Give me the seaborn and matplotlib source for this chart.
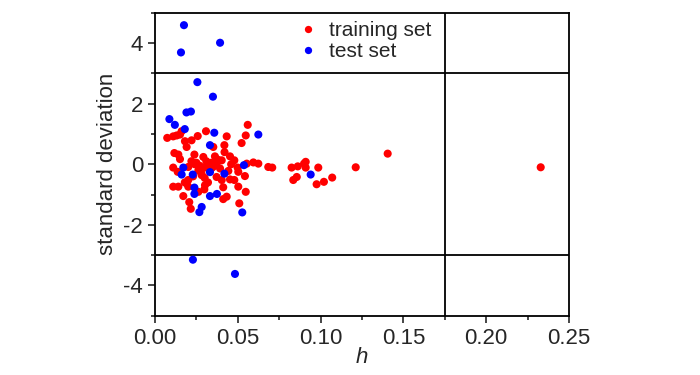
import pandas as pd
import seaborn as sns
import matplotlib.pyplot as plt
from matplotlib.ticker import MultipleLocator

# leverage (h) vs standardized residual
train_h = [0.0560, 0.0308, 0.0131, 0.0151, 0.0161, 0.0074, 0.0110, 0.0258, 0.0433, 0.0548,
           0.0181, 0.0221, 0.0523, 0.0419, 0.0191, 0.0352, 0.0117, 0.0141, 0.0151, 0.0238,
           0.0292, 0.0362, 0.0403, 0.0453, 0.0479, 0.0554, 0.0594, 0.0624, 0.0684, 0.0708,
           0.0825, 0.0862, 0.0900, 0.0835, 0.0856, 0.0110, 0.0137, 0.0201, 0.0262, 0.0298,
           0.0322, 0.0346, 0.0372, 0.0393, 0.0443, 0.0499, 0.0503, 0.0543, 0.0282, 0.0372,
           0.0403, 0.0453, 0.0479, 0.0201, 0.0191, 0.0110, 0.0141, 0.0201, 0.0302, 0.0298,
           0.0262, 0.0412, 0.0503, 0.0548, 0.0171, 0.0412, 0.0433, 0.0207, 0.0216, 0.0509,
           0.1405, 0.1212, 0.0910, 0.0910, 0.0986, 0.0976, 0.1020, 0.1070, 0.2329,
           0.0250, 0.0270, 0.0310, 0.0330, 0.0280, 0.0240, 0.0360, 0.0380, 0.0300, 0.0340,
           0.0220, 0.0180, 0.0420, 0.0460, 0.0230, 0.0320]
train_sd = [1.30, 1.09, 0.95, 0.98, 1.09, 0.87, 0.92, 0.93, 0.92, 0.95,
            0.76, 0.79, 0.70, 0.63, 0.57, 0.57, 0.37, 0.32, 0.17, 0.32,
            0.24, 0.26, 0.13, 0.26, 0.13, 0.02, 0.06, 0.02, -0.09, -0.11,
            -0.11, -0.07, 0.02, -0.52, -0.42, -0.11, -0.25, -0.09, -0.20, -0.11,
            0.00, -0.11, 0.02, -0.14, -0.22, -0.11, -0.25, -0.39, -0.36, -0.42,
            -0.52, -0.50, -0.52, -0.52, -0.63, -0.74, -0.74, -0.74, -0.69, -0.83,
            -0.91, -0.76, -0.74, -0.91, -1.05, -1.15, -1.07, -1.25, -1.47, -1.29,
            0.35, -0.10, 0.08, -0.11, -0.11, -0.66, -0.58, -0.44, -0.10,
            0.05, -0.05, 0.10, -0.20, -0.30, 0.00, -0.05, 0.15, -0.45, 0.05,
            0.10, -0.60, 0.40, 0.00, -0.40, -0.60]

test_h = [0.0175, 0.0157, 0.0393, 0.0256, 0.0350, 0.0190, 0.0217, 0.0087, 0.0120, 0.0180,
          0.0358, 0.0624, 0.0332, 0.0537, 0.0171, 0.0161, 0.0228, 0.0332, 0.0419, 0.0940,
          0.0238, 0.0238, 0.0332, 0.0374, 0.0282, 0.0268, 0.0527, 0.0229, 0.0483]
test_sd = [4.59, 3.69, 4.01, 2.71, 2.23, 1.71, 1.74, 1.49, 1.30, 1.16,
           1.04, 0.98, 0.63, -0.03, -0.11, -0.34, -0.34, -0.26, -0.31, -0.34,
           -0.77, -0.98, -1.05, -0.98, -1.41, -1.58, -1.59, -3.15, -3.62]

df = pd.concat([
    pd.DataFrame({"h": train_h, "sd": train_sd, "set": "training set"}),
    pd.DataFrame({"h": test_h, "sd": test_sd, "set": "test set"}),
])

sns.set_style("ticks")
plt.rcParams["font.family"] = ["Liberation Sans", "DejaVu Sans"]
plt.rcParams["axes.unicode_minus"] = False

fig = plt.figure(figsize=(7, 3.75), dpi=100)
ax = fig.add_axes([0.2214, 0.158, 0.5915, 0.808])

sns.scatterplot(data=df, x="h", y="sd", hue="set",
                palette={"training set": "#ff0000", "test set": "#0000ff"},
                s=34, linewidth=0, ax=ax)

# warning limits
ax.axhline(3, color="black", lw=1.3, zorder=0)
ax.axhline(-3, color="black", lw=1.3, zorder=0)
ax.axvline(0.175, color="black", lw=1.3, zorder=0)

ax.set_xlim(0, 0.25)
ax.set_ylim(-5, 5)
ax.xaxis.set_major_locator(MultipleLocator(0.05))
ax.xaxis.set_minor_locator(MultipleLocator(0.025))
ax.yaxis.set_major_locator(MultipleLocator(2))
ax.yaxis.set_minor_locator(MultipleLocator(1))
ax.set_xticklabels([f"{v:.2f}" for v in ax.get_xticks()])
ax.tick_params(which="major", length=5, width=1.2, labelsize=16, direction="out")
ax.tick_params(which="minor", length=3, width=1.2, direction="out")
for sp in ax.spines.values():
    sp.set_linewidth(1.3)
    sp.set_color("black")

ax.set_xlabel("h", fontsize=16, style="italic", labelpad=-1)
ax.set_ylabel("standard deviation", fontsize=16)

leg = ax.legend(loc="upper left", bbox_to_anchor=(0.275, 1.035), frameon=False,
                fontsize=15, handletextpad=0.0, labelspacing=0.1, markerscale=0.9)

plt.savefig("out.png", dpi=100)
